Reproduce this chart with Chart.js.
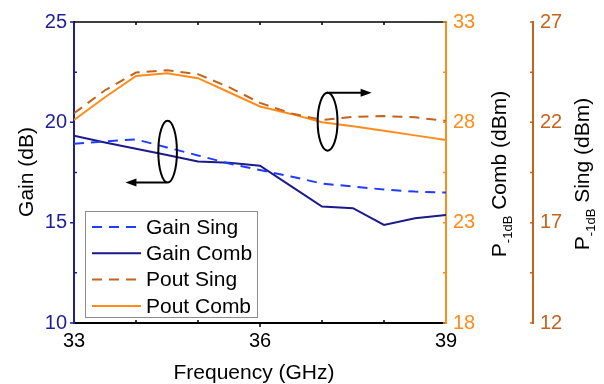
<!DOCTYPE html>
<html>
<head>
<meta charset="utf-8">
<script src="https://cdn.jsdelivr.net/npm/chart.js@4"></script>
<style>
    body { margin: 0; background: #fff; }
    #wrap { width: 604px; height: 384px; }
</style>
</head>
<body>
<div id="wrap"><canvas id="gainChart" width="604" height="384"></canvas></div>
<script>
const freq = [33, 33.5, 34, 34.5, 35, 35.5, 36, 36.5, 37, 37.5, 38, 38.5, 39];
const gainSing = [18.93, 19.05, 19.15, 18.75, 18.35, 17.95, 17.62, 17.3, 16.95, 16.8, 16.65, 16.55, 16.5];
const gainComb = [19.33, 19.0, 18.68, 18.37, 18.05, 17.98, 17.84, 16.82, 15.8, 15.72, 14.89, 15.22, 15.38];
const poutSing = [22.45, 23.6, 24.48, 24.6, 24.4, 23.75, 22.97, 22.45, 22.12, 22.27, 22.31, 22.25, 22.07];
const poutComb = [28.12, 29.25, 30.31, 30.45, 30.2, 29.5, 28.79, 28.42, 28.0, 27.8, 27.58, 27.35, 27.12];

const seriesNames = ["Gain Sing", "Gain Comb", "Pout Sing", "Pout Comb"];
const xTicks = [33, 36, 39];

const NAVY = "#1e1e96";
const ORANGE = "#ff8c1a";
const BROWN = "#c4631e";
const FONT = '"Liberation Sans", Arial, sans-serif';

Chart.defaults.font.family = FONT;

const toPoints = (vals) => vals.map((v, i) => ({ x: freq[i], y: v }));

// ticks: major outward, minor inward, plus titles, legend and the ellipse marks
const decoPlugin = {
    id: "deco",
    afterDraw(chart) {
        const ctx = chart.ctx;
        const { x, y, y1, y2 } = chart.scales;
        const area = chart.chartArea;
        ctx.save();
        ctx.lineWidth = 1.5;

        // top frame line
        ctx.strokeStyle = "#000";
        ctx.beginPath();
        ctx.moveTo(area.left, area.top);
        ctx.lineTo(area.right, area.top);
        ctx.stroke();

        ctx.beginPath();
        for (let v = 34; v <= 38; v++) {
            const px = x.getPixelForValue(v);
            if (xTicks.includes(v)) {
                ctx.moveTo(px, area.bottom); ctx.lineTo(px, area.bottom + 4);
            } else {
                ctx.moveTo(px, area.bottom); ctx.lineTo(px, area.bottom - 3);
            }
            ctx.moveTo(px, area.top); ctx.lineTo(px, area.top + 3);
        }
        ctx.stroke();

        const yTicks = (scale, xPos, color, outDir) => {
            ctx.strokeStyle = color;
            ctx.beginPath();
            for (let v = scale.min; v <= scale.max + 0.01; v += 2.5) {
                const py = scale.getPixelForValue(v);
                if (Math.abs(v % 5) < 0.01 || Math.abs(v % 5 - 5) < 0.01) {
                    ctx.moveTo(xPos, py); ctx.lineTo(xPos + 4 * outDir, py);
                } else {
                    ctx.moveTo(xPos, py); ctx.lineTo(xPos - 3 * outDir, py);
                }
            }
            ctx.stroke();
        };
        yTicks(y, area.left, NAVY, -1);
        yTicks(y1, area.right, ORANGE, 1);
        yTicks(y2, y2.left, BROWN, 1);

        // axis titles
        ctx.fillStyle = "#000";
        ctx.font = "21px " + FONT;
        ctx.textAlign = "center";
        ctx.textBaseline = "middle";
        ctx.fillText("Frequency (GHz)", (area.left + area.right) / 2 - 6, 373);

        const vTitle = (parts, baseX, centerY) => {
            ctx.save();
            ctx.translate(baseX, centerY);
            ctx.rotate(-Math.PI / 2);
            ctx.textAlign = "left";
            ctx.textBaseline = "alphabetic";
            let total = 0;
            parts.forEach(p => { ctx.font = p.size + "px " + FONT; total += ctx.measureText(p.text).width; });
            let cx = -total / 2;
            parts.forEach(p => {
                ctx.font = p.size + "px " + FONT;
                ctx.fillText(p.text, cx, p.shift || 0);
                cx += ctx.measureText(p.text).width;
            });
            ctx.restore();
        };
        vTitle([{ text: "Gain (dB)", size: 21 }], 33, 172);
        vTitle([{ text: "P", size: 21 }, { text: "-1dB", size: 13, shift: 6 }, { text: " Comb (dBm)", size: 21 }], 506, 174);
        vTitle([{ text: "P", size: 21 }, { text: "-1dB", size: 13, shift: 6 }, { text: " Sing (dBm)", size: 21 }], 589, 174);

        // legend box
        const lx = 85, ly = 211, lw = 172, lh = 106;
        ctx.fillStyle = "#fff";
        ctx.fillRect(lx, ly, lw, lh);
        ctx.strokeStyle = "#8c8c8c";
        ctx.lineWidth = 1;
        ctx.strokeRect(lx + 0.5, ly + 0.5, lw, lh);
        chart.data.datasets.forEach((ds, i) => {
            const rowY = ly + 16 + i * 26.3;
            ctx.strokeStyle = ds.borderColor;
            ctx.lineWidth = 2;
            ctx.setLineDash(ds.borderDash || []);
            ctx.beginPath();
            ctx.moveTo(lx + 7, rowY);
            ctx.lineTo(lx + 56, rowY);
            ctx.stroke();
            ctx.setLineDash([]);
            ctx.fillStyle = "#000";
            ctx.font = "21px " + FONT;
            ctx.textAlign = "left";
            ctx.textBaseline = "middle";
            ctx.fillText(ds.label, lx + 61, rowY + 1);
        });

        // ellipse + arrow markers, placed in data units
        const arrow = (x0, y0, x1, y1p) => {
            const dir = Math.sign(x1 - x0);
            ctx.beginPath();
            ctx.moveTo(x0, y0);
            ctx.lineTo(x1 - dir * 9, y1p);
            ctx.stroke();
            ctx.beginPath();
            ctx.moveTo(x1, y1p);
            ctx.lineTo(x1 - dir * 11, y1p - 4);
            ctx.lineTo(x1 - dir * 11, y1p + 4);
            ctx.closePath();
            ctx.fill();
        };
        ctx.strokeStyle = "#000";
        ctx.fillStyle = "#000";
        ctx.lineWidth = 2;

        const e1x = x.getPixelForValue(34.51), e1y = y.getPixelForValue(18.54);
        const e1rx = x.getPixelForValue(34.66) - e1x, e1ry = y.getPixelForValue(17.0) - e1y;
        ctx.beginPath();
        ctx.ellipse(e1x, e1y, e1rx, e1ry, 0, 0, Math.PI * 2);
        ctx.stroke();
        arrow(e1x - 1, e1y + e1ry, x.getPixelForValue(33.83), e1y + e1ry);

        const e2x = x.getPixelForValue(37.09), e2y = y1.getPixelForValue(28.03);
        const e2rx = x.getPixelForValue(37.25) - e2x, e2ry = e2y - y1.getPixelForValue(29.47);
        ctx.beginPath();
        ctx.ellipse(e2x, e2y, e2rx, e2ry, 0, 0, Math.PI * 2);
        ctx.stroke();
        arrow(e2x - 1, e2y - e2ry, x.getPixelForValue(37.8), e2y - e2ry);

        ctx.restore();
    }
};

new Chart(document.getElementById("gainChart"), {
    type: "line",
    data: {
        datasets: [
            { label: seriesNames[0], data: toPoints(gainSing), yAxisID: "y", borderColor: "#1f3cff", borderDash: [10, 7], borderWidth: 2 },
            { label: seriesNames[1], data: toPoints(gainComb), yAxisID: "y", borderColor: "#1a1a8c", borderWidth: 2 },
            { label: seriesNames[2], data: toPoints(poutSing), yAxisID: "y2", borderColor: BROWN, borderDash: [10, 7], borderWidth: 2 },
            { label: seriesNames[3], data: toPoints(poutComb), yAxisID: "y1", borderColor: ORANGE, borderWidth: 2 }
        ]
    },
    options: {
        responsive: false,
        animation: false,
        layout: { padding: { top: 22, left: 0, right: 0, bottom: 0 } },
        elements: { point: { radius: 0 }, line: { tension: 0 } },
        plugins: {
            legend: { display: false },
            tooltip: { enabled: false }
        },
        scales: {
            x: {
                type: "linear",
                min: 33,
                max: 39,
                grid: { display: false, drawTicks: false },
                border: { color: "#000", width: 2 },
                ticks: {
                    stepSize: 1,
                    autoSkip: false,
                    maxRotation: 0,
                    padding: 6,
                    color: "#000",
                    font: { size: 20 },
                    callback: (v) => xTicks.includes(v) ? v : ""
                },
                afterFit: (s) => { s.height = 61; }
            },
            y: {
                position: "left",
                min: 10,
                max: 25,
                grid: { display: false, drawTicks: false },
                border: { color: NAVY, width: 2 },
                ticks: {
                    stepSize: 2.5,
                    padding: 7,
                    color: NAVY,
                    font: { size: 20 },
                    callback: (v) => v % 5 === 0 ? v : ""
                },
                afterFit: (s) => { s.width = 74; }
            },
            y1: {
                position: "right",
                weight: 0,
                min: 18,
                max: 33,
                grid: { display: false, drawTicks: false },
                border: { color: ORANGE, width: 2 },
                ticks: {
                    stepSize: 2.5,
                    padding: 7,
                    color: ORANGE,
                    font: { size: 20 },
                    callback: (v) => (v - 18) % 5 === 0 ? v : ""
                },
                afterFit: (s) => { s.width = 87; }
            },
            y2: {
                position: "right",
                weight: 1,
                min: 12,
                max: 27,
                grid: { display: false, drawTicks: false },
                border: { color: BROWN, width: 2 },
                ticks: {
                    stepSize: 2.5,
                    padding: 7,
                    color: BROWN,
                    font: { size: 20 },
                    callback: (v) => (v - 12) % 5 === 0 ? v : ""
                },
                afterFit: (s) => { s.width = 71; }
            }
        }
    },
    plugins: [decoPlugin]
});
</script>
</body>
</html>
